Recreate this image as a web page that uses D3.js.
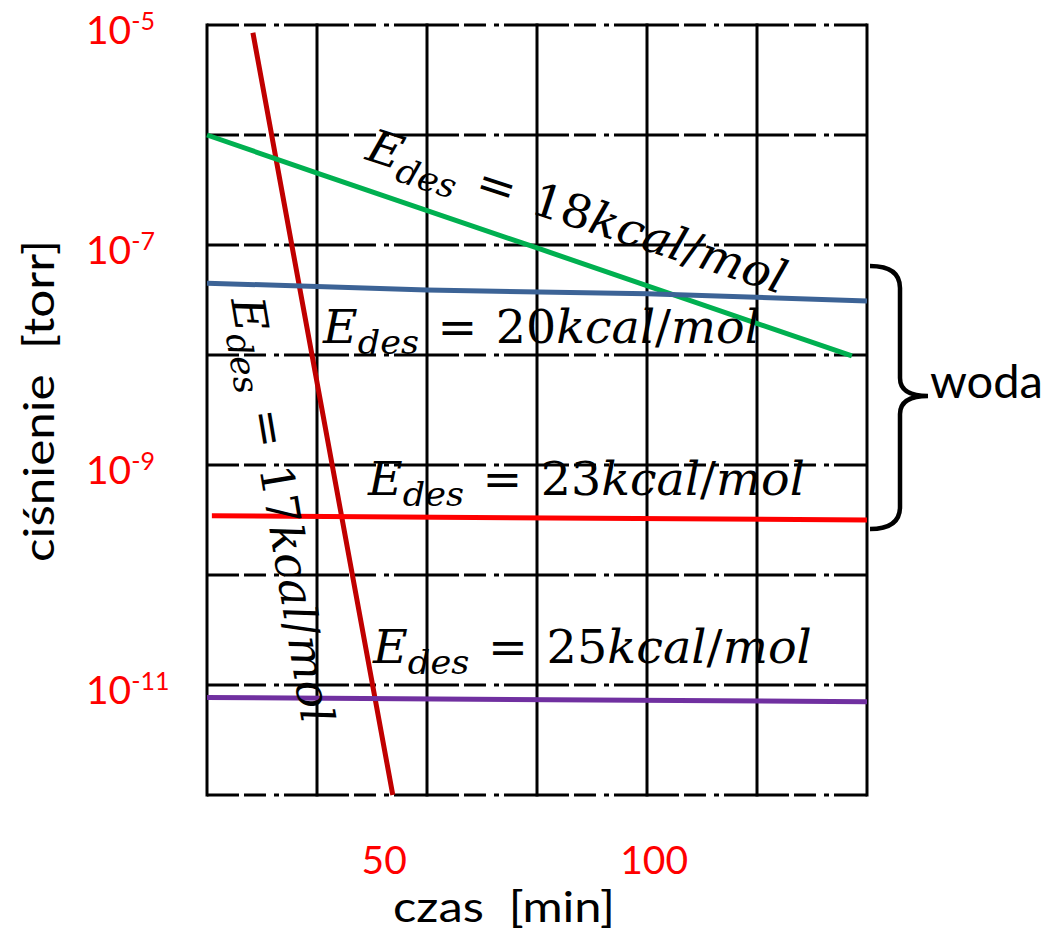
<!DOCTYPE html>
<html lang="pl">
<head>
<meta charset="UTF-8">
<title>Desorpcja wody</title>
<script src="https://d3js.org/d3.v7.min.js"></script>
<style>
  body { margin: 0; background: #fff; }
  text { white-space: pre; }
</style>
</head>
<body>
<script>

// tick labels
var timeTicks = [50, 100];
var pressureExps = [-5, -7, -9, -11];
// grid: one line per decade, six columns
var gridExps = [-5, -6, -7, -8, -9, -10, -11, -12];
var gridCols = [0, 1, 2, 3, 4, 5, 6];

// series: [czas min, cisnienie torr]
var e17 = [[25.7, 8.5e-6], [32.9, 1e-7], [51.6, 1e-12]];
var e18 = [[17.2, 1e-6], [37.6, 4.5e-7], [78.3, 9.4e-8], [136.6, 9.8e-9]];
var e20 = [[17.2, 4.5e-8], [57.9, 3.9e-8], [98.7, 3.6e-8], [139.4, 3.1e-8]];
var e23 = [[18.1, 3.46e-10], [139.4, 3.16e-10]];
var e25 = [[17.2, 7.7e-12], [139.4, 7.05e-12]];

var series = [
  {data: e17, color: "#C00000"},
  {data: e18, color: "#00B050"},
  {data: e20, color: "#3C6396"},
  {data: e23, color: "#FF0000"},
  {data: e25, color: "#7030A0"}
];

var W = 1048, H = 936;
var plotL = 207, plotR = 867, plotT = 25, plotB = 795;

var svg = d3.select("body").append("svg")
    .attr("width", W)
    .attr("height", H);

var x = d3.scaleLinear().domain([17.2, 139.4]).range([plotL, plotR]);
var y = d3.scaleLog().domain([1e-12, 1e-5]).range([plotB, plotT]);
var gx = d3.scaleLinear().domain([0, 6]).range([plotL, plotR]);

// horizontal grid, dash-dot
svg.append("g").selectAll("line")
    .data(gridExps)
    .enter().append("line")
    .attr("x1", plotL).attr("x2", plotR)
    .attr("y1", function(d) { return y(Math.pow(10, d)); })
    .attr("y2", function(d) { return y(Math.pow(10, d)); })
    .attr("stroke", "black")
    .attr("stroke-width", 3)
    .attr("stroke-dasharray", "65,5,22,8,5,5")
    .attr("stroke-dashoffset", 33);

// vertical grid, solid
svg.append("g").selectAll("line")
    .data(gridCols)
    .enter().append("line")
    .attr("x1", function(d) { return gx(d); })
    .attr("x2", function(d) { return gx(d); })
    .attr("y1", plotT - 1.5).attr("y2", plotB + 1.5)
    .attr("stroke", "black")
    .attr("stroke-width", 3);

// curves
var line = d3.line()
    .x(function(d) { return x(d[0]); })
    .y(function(d) { return y(d[1]); });

svg.append("g").selectAll("path")
    .data(series)
    .enter().append("path")
    .attr("d", function(d) { return line(d.data); })
    .attr("fill", "none")
    .attr("stroke", function(d) { return d.color; })
    .attr("stroke-width", 5);

// y tick labels with superscript exponent
var yt = svg.append("g").selectAll("text")
    .data(pressureExps)
    .enter().append("text")
    .attr("x", 86)
    .attr("y", function(d) { return y(Math.pow(10, d)) + 19; })
    .attr("font-family", "Lato")
    .attr("font-size", 39)
    .attr("fill", "#FF0000");
yt.append("tspan").text("10");
yt.append("tspan")
    .attr("font-size", 25)
    .attr("dy", -14)
    .text(function(d) { return String(d); });

// x tick labels
svg.append("g").selectAll("text")
    .data(timeTicks)
    .enter().append("text")
    .attr("x", function(d) { return x(d); })
    .attr("y", 874)
    .attr("text-anchor", "middle")
    .attr("font-family", "Lato")
    .attr("font-size", 39)
    .attr("fill", "#FF0000")
    .text(function(d) { return d; });

// axis titles
svg.append("text")
    .attr("x", 504).attr("y", 922)
    .attr("text-anchor", "middle")
    .attr("font-family", "Lato")
    .attr("font-size", 43)
    .attr("textLength", 222)
    .attr("lengthAdjust", "spacingAndGlyphs")
    .text("czas  [min]");

svg.append("text")
    .attr("transform", "translate(54,401) rotate(-90)")
    .attr("text-anchor", "middle")
    .attr("font-family", "Lato")
    .attr("font-size", 43)
    .attr("textLength", 322)
    .attr("lengthAdjust", "spacingAndGlyphs")
    .text("ciśnienie  [torr]");

// E_des = ..kcal/mol labels
function mathLabel(num, px, py, angle, width) {
  var t = svg.append("text")
      .attr("font-family", "DejaVu Serif")
      .attr("font-size", 46)
      .attr("fill", "black");
  t.append("tspan").attr("font-style", "italic").text("E");
  t.append("tspan").attr("font-style", "italic").attr("font-size", 34).attr("dy", 11).text("des");
  t.append("tspan").attr("dy", -11).attr("dx", 18).text("=");
  t.append("tspan").attr("dx", 18).text(num);
  t.append("tspan").attr("font-style", "italic").text("kcal");
  t.append("tspan").text("/");
  t.append("tspan").attr("font-style", "italic").text("mol");
  var len = t.node().getComputedTextLength() + 36;
  t.attr("transform", "translate(" + px + "," + py + ") rotate(" + angle + ") scale(" + (width / len) + ",1)");
}

mathLabel("17", 231, 300, 80.5, 431);
mathLabel("18", 364, 159, 18, 438);
mathLabel("20", 323, 343, 0, 437);
mathLabel("23", 368, 495, 0, 437);
mathLabel("25", 373, 663, 0, 439);

// brace for water
svg.append("path")
    .attr("d", "M870,266 Q900,266 900,288 L900,378 Q900,396 928,396 Q900,396 900,414 L900,507 Q900,529 870,529")
    .attr("fill", "none")
    .attr("stroke", "black")
    .attr("stroke-width", 4.5);

svg.append("text")
    .attr("x", 930).attr("y", 398)
    .attr("font-family", "Lato")
    .attr("font-size", 46)
    .attr("textLength", 113)
    .attr("lengthAdjust", "spacingAndGlyphs")
    .text("woda");

</script>
</body>
</html>
